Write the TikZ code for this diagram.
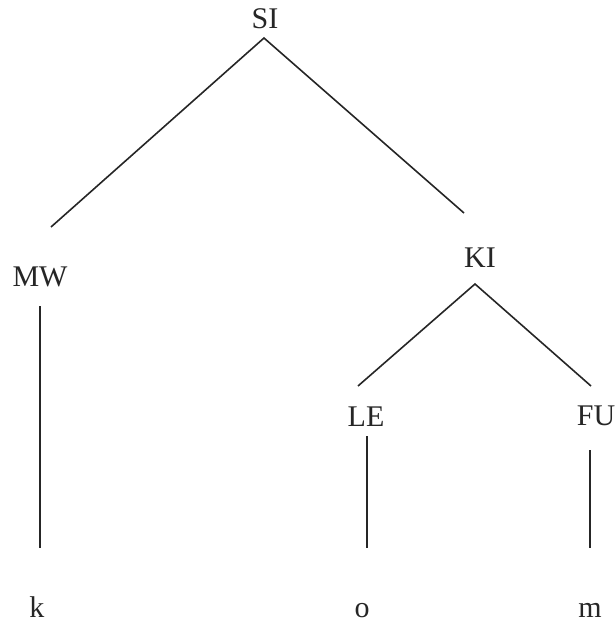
\documentclass[tikz,border=0pt]{standalone}
\usepackage{fontspec}
\setmainfont{Liberation Serif}
\begin{document}
\begin{tikzpicture}[x=0.5pt,y=-0.5pt,
  lbl/.style={anchor=base,inner sep=0pt,font=\fontsize{15}{18}\selectfont,text=black!85},
  edge/.style={line width=0.8pt,draw=black!85}]
\useasboundingbox (0,0) rectangle (616,623);
% labels
\node[lbl] (SI) at (265,28) {SI};
\node[lbl] (MW) at (40,286) {MW};
\node[lbl] (KI) at (480,267) {KI};
\node[lbl] (LE) at (366,426) {LE};
\node[lbl] (FU) at (596,425) {FU};
\node[lbl] (k) at (37,617) {k};
\node[lbl] (o) at (362,617) {o};
\node[lbl] (m) at (590,617) {m};
% connector end points
\coordinate (SIa) at (264,38);
\coordinate (MWt) at (51,227);
\coordinate (KIt) at (464,213);
\coordinate (MWb) at (40,306);
\coordinate (kt) at (40,548);
\coordinate (KIa) at (475,284);
\coordinate (LEt) at (358,386);
\coordinate (FUt) at (591,386);
\coordinate (LEb) at (367,436);
\coordinate (ot) at (367,548);
\coordinate (FUb) at (590,450);
\coordinate (mt) at (590,548);
% connectors
\draw[edge] (MWt) -- (SIa) -- (KIt);
\draw[edge] (LEt) -- (KIa) -- (FUt);
\draw[edge] (MWb) -- (kt);
\draw[edge] (LEb) -- (ot);
\draw[edge] (FUb) -- (mt);
\end{tikzpicture}
\end{document}
